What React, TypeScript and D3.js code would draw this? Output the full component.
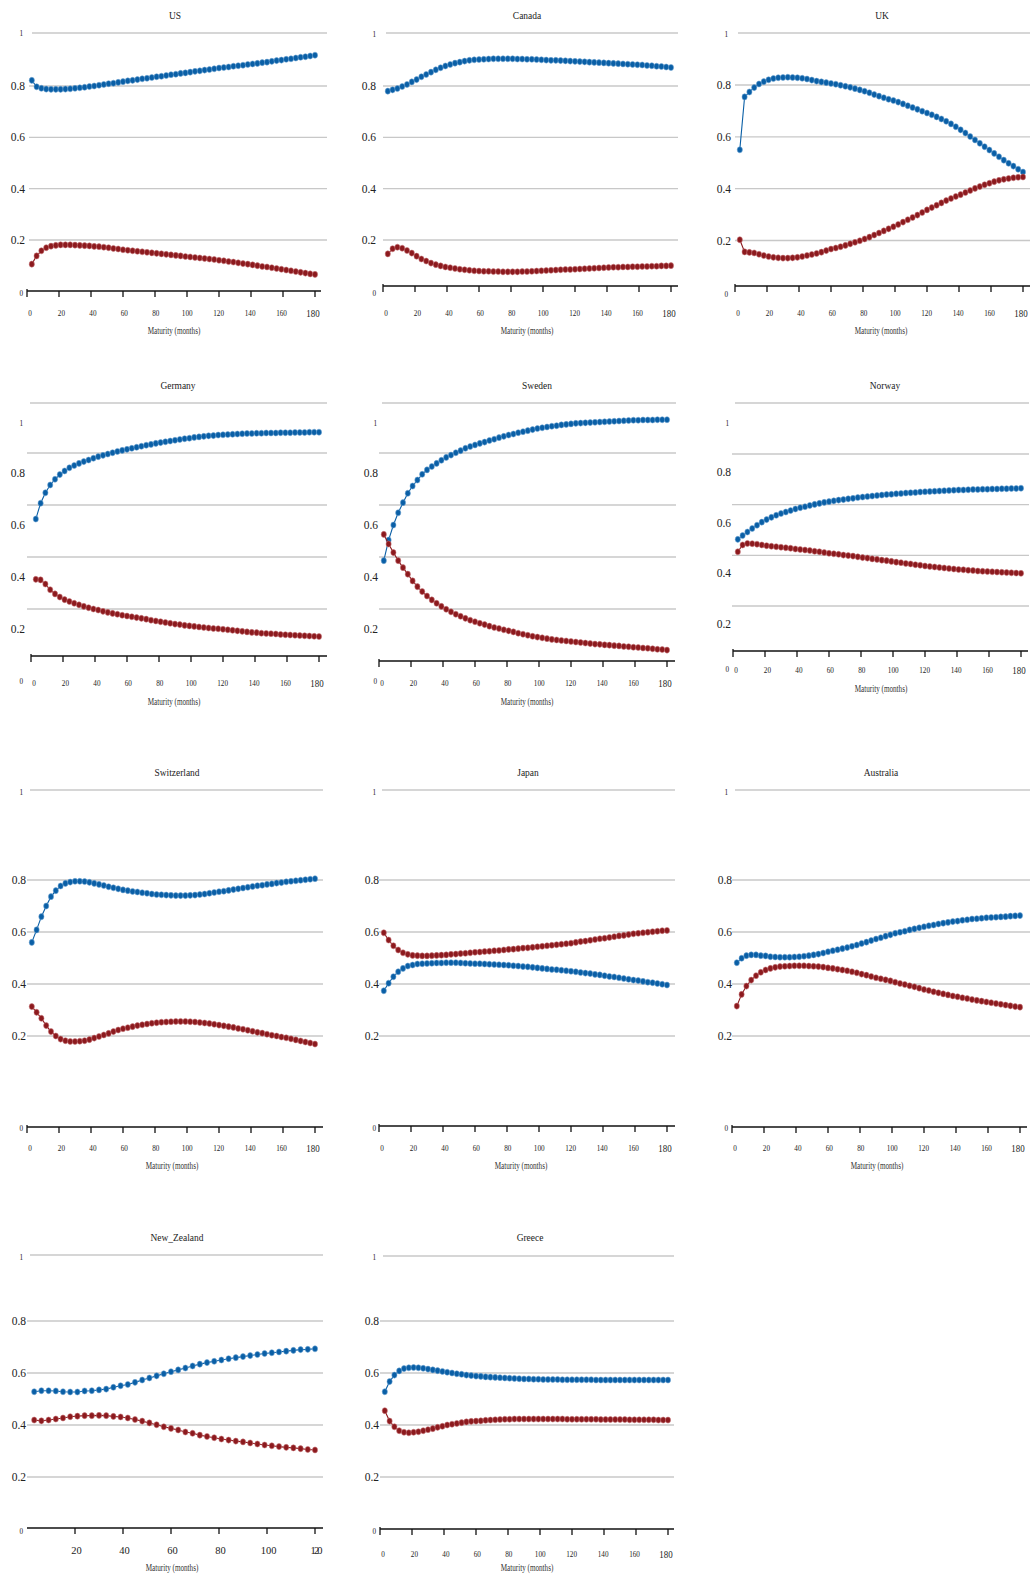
import React from "react";
import * as d3 from "d3";

// ---------- x values (maturity in months) ----------
const MONTHS = [3, 6, 9, 12, 15, 18, 21, 24, 27, 30, 33, 36, 39, 42, 45, 48, 51, 54, 57, 60,
  63, 66, 69, 72, 75, 78, 81, 84, 87, 90, 93, 96, 99, 102, 105, 108, 111, 114, 117, 120,
  123, 126, 129, 132, 135, 138, 141, 144, 147, 150, 153, 156, 159, 162, 165, 168, 171, 174, 177, 180];
const MONTHS_NZ = [3, 6, 9, 12, 15, 18, 21, 24, 27, 30, 33, 36, 39, 42, 45, 48, 51, 54, 57, 60,
  63, 66, 69, 72, 75, 78, 81, 84, 87, 90, 93, 96, 99, 102, 105, 108, 111, 114, 117, 120];
const X_TICKS = [0, 20, 40, 60, 80, 100, 120, 140, 160, 180];
const X_TICKS_NZ = [20, 40, 60, 80, 100, 120];
const Y_TICKS = [0.2, 0.4, 0.6, 0.8];
const Y_TICK_LABELS = ["0.2", "0.4", "0.6", "0.8"];

// ---------- series (blue / red) ----------
const US_BLUE = [0.822, 0.797, 0.791, 0.788, 0.787, 0.787, 0.787, 0.788, 0.789, 0.791,
  0.793, 0.795, 0.798, 0.800, 0.803, 0.806, 0.809, 0.811, 0.814, 0.817,
  0.820, 0.822, 0.825, 0.828, 0.830, 0.833, 0.836, 0.838, 0.841, 0.844,
  0.846, 0.849, 0.851, 0.854, 0.857, 0.859, 0.862, 0.864, 0.867, 0.870,
  0.872, 0.874, 0.877, 0.879, 0.881, 0.884, 0.886, 0.888, 0.891, 0.893,
  0.896, 0.899, 0.901, 0.904, 0.906, 0.909, 0.912, 0.914, 0.917, 0.920];
const US_RED = [0.106, 0.138, 0.158, 0.170, 0.176, 0.179, 0.181, 0.181, 0.181, 0.180,
  0.179, 0.178, 0.177, 0.175, 0.174, 0.172, 0.170, 0.167, 0.165, 0.162,
  0.160, 0.158, 0.156, 0.154, 0.152, 0.150, 0.148, 0.146, 0.144, 0.142,
  0.140, 0.138, 0.136, 0.134, 0.132, 0.130, 0.128, 0.126, 0.124, 0.121,
  0.119, 0.116, 0.114, 0.111, 0.108, 0.106, 0.103, 0.100, 0.097, 0.095,
  0.092, 0.089, 0.086, 0.083, 0.080, 0.077, 0.074, 0.071, 0.068, 0.066];

const CA_BLUE = [0.780, 0.785, 0.790, 0.798, 0.806, 0.816, 0.825, 0.836, 0.845, 0.854,
  0.863, 0.871, 0.878, 0.884, 0.889, 0.893, 0.897, 0.900, 0.902, 0.903,
  0.904, 0.905, 0.906, 0.906, 0.906, 0.906, 0.906, 0.905, 0.905, 0.904,
  0.904, 0.903, 0.902, 0.901, 0.900, 0.900, 0.899, 0.898, 0.897, 0.896,
  0.895, 0.894, 0.893, 0.892, 0.891, 0.890, 0.889, 0.888, 0.887, 0.886,
  0.885, 0.884, 0.883, 0.882, 0.880, 0.879, 0.877, 0.876, 0.874, 0.872];
const CA_RED = [0.146, 0.166, 0.172, 0.168, 0.159, 0.149, 0.137, 0.126, 0.118, 0.110,
  0.104, 0.099, 0.095, 0.092, 0.089, 0.086, 0.084, 0.082, 0.080, 0.079,
  0.078, 0.078, 0.077, 0.077, 0.076, 0.076, 0.076, 0.076, 0.077, 0.077,
  0.078, 0.079, 0.080, 0.081, 0.082, 0.083, 0.084, 0.085, 0.085, 0.086,
  0.087, 0.088, 0.089, 0.090, 0.091, 0.092, 0.093, 0.094, 0.094, 0.095,
  0.095, 0.096, 0.096, 0.097, 0.097, 0.098, 0.098, 0.099, 0.099, 0.100];

const UK_BLUE = [0.550, 0.754, 0.773, 0.790, 0.804, 0.813, 0.820, 0.825, 0.828, 0.829,
  0.830, 0.829, 0.828, 0.826, 0.823, 0.819, 0.815, 0.812, 0.809, 0.806,
  0.803, 0.799, 0.795, 0.791, 0.786, 0.781, 0.776, 0.770, 0.763, 0.757,
  0.751, 0.745, 0.740, 0.734, 0.727, 0.720, 0.713, 0.706, 0.699, 0.692,
  0.685, 0.677, 0.669, 0.660, 0.650, 0.639, 0.627, 0.615, 0.601, 0.588,
  0.575, 0.562, 0.549, 0.536, 0.523, 0.510, 0.498, 0.487, 0.475, 0.464];
const UK_RED = [0.203, 0.156, 0.154, 0.152, 0.147, 0.142, 0.138, 0.135, 0.133, 0.132,
  0.132, 0.133, 0.135, 0.138, 0.142, 0.146, 0.150, 0.155, 0.161, 0.167,
  0.171, 0.176, 0.181, 0.187, 0.193, 0.199, 0.206, 0.213, 0.221, 0.229,
  0.237, 0.245, 0.253, 0.262, 0.271, 0.280, 0.289, 0.298, 0.308, 0.318,
  0.327, 0.336, 0.345, 0.354, 0.362, 0.370, 0.377, 0.385, 0.393, 0.401,
  0.408, 0.415, 0.421, 0.427, 0.432, 0.436, 0.439, 0.442, 0.444, 0.445];

const DE_BLUE = [0.546, 0.607, 0.647, 0.677, 0.699, 0.717, 0.731, 0.743, 0.752, 0.760,
  0.767, 0.773, 0.780, 0.786, 0.791, 0.796, 0.801, 0.806, 0.810, 0.814,
  0.818, 0.822, 0.826, 0.830, 0.833, 0.837, 0.840, 0.843, 0.846, 0.849,
  0.852, 0.855, 0.857, 0.860, 0.862, 0.864, 0.866, 0.867, 0.869, 0.870,
  0.871, 0.872, 0.873, 0.874, 0.875, 0.875, 0.876, 0.876, 0.877, 0.877,
  0.877, 0.878, 0.878, 0.878, 0.879, 0.879, 0.879, 0.880, 0.880, 0.880];
const DE_RED = [0.314, 0.312, 0.296, 0.274, 0.258, 0.246, 0.236, 0.229, 0.222, 0.216,
  0.210, 0.205, 0.200, 0.196, 0.191, 0.187, 0.183, 0.180, 0.176, 0.173,
  0.170, 0.167, 0.164, 0.161, 0.157, 0.154, 0.151, 0.148, 0.145, 0.142,
  0.140, 0.137, 0.135, 0.133, 0.131, 0.129, 0.127, 0.125, 0.124, 0.122,
  0.120, 0.118, 0.116, 0.114, 0.112, 0.110, 0.109, 0.107, 0.106, 0.105,
  0.104, 0.102, 0.101, 0.100, 0.099, 0.098, 0.097, 0.096, 0.095, 0.094];

const SE_BLUE = [0.386, 0.465, 0.523, 0.570, 0.609, 0.645, 0.673, 0.696, 0.718, 0.735,
  0.748, 0.760, 0.772, 0.783, 0.792, 0.801, 0.809, 0.818, 0.825, 0.831,
  0.837, 0.842, 0.848, 0.853, 0.859, 0.864, 0.869, 0.873, 0.878, 0.882,
  0.886, 0.890, 0.894, 0.897, 0.900, 0.903, 0.905, 0.908, 0.910, 0.912,
  0.914, 0.915, 0.916, 0.917, 0.918, 0.919, 0.920, 0.921, 0.922, 0.923,
  0.924, 0.925, 0.926, 0.926, 0.927, 0.927, 0.927, 0.928, 0.928, 0.928];
const SE_RED = [0.487, 0.450, 0.417, 0.386, 0.359, 0.334, 0.308, 0.286, 0.267, 0.250,
  0.235, 0.222, 0.210, 0.199, 0.189, 0.180, 0.172, 0.164, 0.157, 0.151,
  0.145, 0.140, 0.134, 0.129, 0.125, 0.120, 0.116, 0.112, 0.107, 0.103,
  0.099, 0.095, 0.092, 0.089, 0.086, 0.083, 0.081, 0.079, 0.077, 0.075,
  0.073, 0.071, 0.069, 0.067, 0.065, 0.064, 0.062, 0.061, 0.059, 0.058,
  0.056, 0.055, 0.053, 0.052, 0.050, 0.049, 0.047, 0.045, 0.044, 0.042];

const NO_BLUE = [0.463, 0.478, 0.492, 0.506, 0.519, 0.531, 0.541, 0.550, 0.558, 0.565,
  0.571, 0.577, 0.583, 0.588, 0.592, 0.597, 0.601, 0.605, 0.609, 0.612,
  0.615, 0.618, 0.620, 0.623, 0.625, 0.628, 0.630, 0.632, 0.634, 0.636,
  0.638, 0.640, 0.641, 0.643, 0.644, 0.646, 0.647, 0.648, 0.650, 0.651,
  0.652, 0.653, 0.654, 0.655, 0.656, 0.657, 0.658, 0.658, 0.659, 0.660,
  0.660, 0.661, 0.661, 0.662, 0.662, 0.663, 0.663, 0.664, 0.664, 0.665];
const NO_RED = [0.414, 0.441, 0.447, 0.446, 0.444, 0.441, 0.438, 0.436, 0.434, 0.432,
  0.430, 0.428, 0.425, 0.423, 0.421, 0.419, 0.416, 0.414, 0.411, 0.408,
  0.406, 0.404, 0.401, 0.399, 0.397, 0.394, 0.391, 0.389, 0.386, 0.384,
  0.381, 0.379, 0.376, 0.373, 0.371, 0.368, 0.366, 0.363, 0.361, 0.358,
  0.356, 0.354, 0.352, 0.350, 0.348, 0.346, 0.344, 0.343, 0.341, 0.340,
  0.338, 0.337, 0.336, 0.335, 0.334, 0.333, 0.332, 0.331, 0.330, 0.329];

const CH_BLUE = [0.560, 0.608, 0.659, 0.700, 0.736, 0.759, 0.777, 0.787, 0.792, 0.795,
  0.795, 0.794, 0.791, 0.787, 0.783, 0.779, 0.774, 0.770, 0.766, 0.762,
  0.759, 0.756, 0.754, 0.751, 0.749, 0.746, 0.744, 0.743, 0.742, 0.741,
  0.740, 0.740, 0.740, 0.741, 0.742, 0.744, 0.746, 0.749, 0.752, 0.755,
  0.757, 0.760, 0.763, 0.766, 0.769, 0.772, 0.775, 0.778, 0.780, 0.783,
  0.785, 0.788, 0.790, 0.793, 0.795, 0.797, 0.799, 0.801, 0.803, 0.805];
const CH_RED = [0.313, 0.291, 0.268, 0.240, 0.217, 0.200, 0.188, 0.182, 0.179, 0.179,
  0.180, 0.182, 0.186, 0.192, 0.198, 0.204, 0.210, 0.217, 0.223, 0.228,
  0.232, 0.236, 0.240, 0.243, 0.246, 0.249, 0.251, 0.253, 0.254, 0.255,
  0.256, 0.256, 0.256, 0.255, 0.254, 0.252, 0.250, 0.248, 0.245, 0.242,
  0.239, 0.236, 0.233, 0.229, 0.226, 0.222, 0.218, 0.214, 0.211, 0.207,
  0.203, 0.200, 0.196, 0.193, 0.189, 0.185, 0.181, 0.177, 0.173, 0.169];

const JP_BLUE = [0.374, 0.403, 0.428, 0.447, 0.460, 0.469, 0.473, 0.477, 0.478, 0.479,
  0.480, 0.481, 0.481, 0.482, 0.482, 0.482, 0.481, 0.480, 0.479, 0.478,
  0.478, 0.477, 0.476, 0.475, 0.474, 0.473, 0.472, 0.470, 0.469, 0.467,
  0.466, 0.464, 0.462, 0.460, 0.458, 0.456, 0.455, 0.453, 0.451, 0.449,
  0.447, 0.444, 0.442, 0.440, 0.437, 0.435, 0.432, 0.429, 0.427, 0.424,
  0.421, 0.418, 0.415, 0.413, 0.410, 0.407, 0.405, 0.402, 0.399, 0.396];
const JP_RED = [0.597, 0.569, 0.547, 0.531, 0.520, 0.514, 0.510, 0.509, 0.508, 0.508,
  0.509, 0.510, 0.511, 0.512, 0.514, 0.515, 0.517, 0.518, 0.520, 0.522,
  0.523, 0.525, 0.526, 0.528, 0.529, 0.531, 0.533, 0.534, 0.536, 0.538,
  0.539, 0.541, 0.543, 0.545, 0.547, 0.549, 0.551, 0.553, 0.555, 0.557,
  0.560, 0.563, 0.565, 0.568, 0.571, 0.574, 0.576, 0.579, 0.582, 0.585,
  0.587, 0.590, 0.593, 0.595, 0.597, 0.599, 0.601, 0.603, 0.605, 0.606];

const AU_BLUE = [0.482, 0.499, 0.509, 0.512, 0.512, 0.509, 0.508, 0.505, 0.504, 0.503,
  0.503, 0.503, 0.504, 0.505, 0.507, 0.509, 0.512, 0.515, 0.519, 0.524,
  0.528, 0.532, 0.536, 0.540, 0.545, 0.550, 0.556, 0.561, 0.567, 0.573,
  0.578, 0.584, 0.589, 0.595, 0.599, 0.603, 0.608, 0.612, 0.616, 0.620,
  0.624, 0.627, 0.631, 0.634, 0.637, 0.640, 0.642, 0.645, 0.647, 0.650,
  0.651, 0.653, 0.655, 0.656, 0.657, 0.658, 0.659, 0.661, 0.662, 0.663];
const AU_RED = [0.315, 0.360, 0.392, 0.415, 0.432, 0.445, 0.454, 0.460, 0.464, 0.467,
  0.468, 0.469, 0.470, 0.470, 0.470, 0.469, 0.468, 0.467, 0.465, 0.462,
  0.460, 0.457, 0.454, 0.451, 0.447, 0.443, 0.438, 0.434, 0.429, 0.424,
  0.420, 0.416, 0.412, 0.407, 0.402, 0.398, 0.393, 0.389, 0.384, 0.379,
  0.375, 0.370, 0.366, 0.362, 0.358, 0.354, 0.351, 0.347, 0.344, 0.340,
  0.337, 0.334, 0.331, 0.328, 0.325, 0.322, 0.319, 0.316, 0.313, 0.311];

const NZ_BLUE = [0.528, 0.532, 0.532, 0.531, 0.528, 0.527, 0.527, 0.531, 0.532, 0.535,
  0.538, 0.545, 0.551, 0.556, 0.564, 0.573, 0.581, 0.589, 0.597, 0.605,
  0.612, 0.619, 0.627, 0.634, 0.640, 0.645, 0.650, 0.655, 0.659, 0.663,
  0.667, 0.671, 0.675, 0.678, 0.681, 0.684, 0.687, 0.690, 0.691, 0.693];
const NZ_RED = [0.419, 0.416, 0.419, 0.423, 0.427, 0.432, 0.434, 0.436, 0.436, 0.437,
  0.436, 0.433, 0.431, 0.427, 0.421, 0.415, 0.408, 0.401, 0.393, 0.387,
  0.381, 0.373, 0.368, 0.361, 0.356, 0.351, 0.346, 0.342, 0.338, 0.335,
  0.331, 0.327, 0.323, 0.320, 0.317, 0.314, 0.312, 0.309, 0.306, 0.304];

const GR_BLUE = [0.528, 0.567, 0.592, 0.608, 0.617, 0.620, 0.621, 0.620, 0.618, 0.615,
  0.612, 0.609, 0.606, 0.603, 0.600, 0.597, 0.595, 0.592, 0.590, 0.588,
  0.587, 0.585, 0.584, 0.583, 0.582, 0.581, 0.580, 0.579, 0.578, 0.577,
  0.577, 0.576, 0.576, 0.575, 0.575, 0.575, 0.575, 0.574, 0.574, 0.574,
  0.574, 0.574, 0.574, 0.574, 0.573, 0.573, 0.573, 0.573, 0.573, 0.573,
  0.573, 0.573, 0.573, 0.573, 0.573, 0.573, 0.573, 0.573, 0.573, 0.573];
const GR_RED = [0.455, 0.415, 0.393, 0.378, 0.372, 0.370, 0.372, 0.374, 0.378, 0.382,
  0.386, 0.391, 0.395, 0.400, 0.403, 0.406, 0.409, 0.412, 0.414, 0.415,
  0.416, 0.418, 0.419, 0.420, 0.421, 0.422, 0.422, 0.423, 0.423, 0.423,
  0.423, 0.423, 0.423, 0.423, 0.423, 0.423, 0.423, 0.423, 0.422, 0.422,
  0.422, 0.422, 0.422, 0.422, 0.422, 0.421, 0.421, 0.421, 0.421, 0.421,
  0.421, 0.420, 0.420, 0.420, 0.420, 0.420, 0.420, 0.419, 0.419, 0.419];

// ---------- layout ----------
type Layout = {
  x0: number; pxm: number; axisX2: number; gridX1: number; gridX2: number;
  y08: number; y02: number; topY: number; axisY: number;
  labR: number; smallR: number; topLabY: number; zeroLabY: number; shift: number;
  titleX: number; titleY: number; tickLabY: number; xTitleX: number; xTitleY: number;
};

const PANELS: { name: string; blue: number[]; red: number[]; months: number[]; ticks: number[]; nz?: boolean; L: Layout }[] = [
  { name: "US", blue: US_BLUE, red: US_RED, months: MONTHS, ticks: X_TICKS,
    L: { x0: 27, pxm: 1.6, axisX2: 321, gridX1: 29, gridX2: 327, y08: 86, y02: 240, topY: 33, axisY: 291, labR: 25, smallR: 23, topLabY: 33, zeroLabY: 293, shift: 0, titleX: 175, titleY: 15, tickLabY: 313, xTitleX: 174, xTitleY: 331 } },
  { name: "Canada", blue: CA_BLUE, red: CA_RED, months: MONTHS, ticks: X_TICKS,
    L: { x0: 383, pxm: 1.6, axisX2: 678, gridX1: 383, gridX2: 678, y08: 86, y02: 240, topY: 33, axisY: 286, labR: 376, smallR: 376, topLabY: 34, zeroLabY: 293, shift: 0, titleX: 527, titleY: 15, tickLabY: 313, xTitleX: 527, xTitleY: 331 } },
  { name: "UK", blue: UK_BLUE, red: UK_RED, months: MONTHS, ticks: X_TICKS,
    L: { x0: 735, pxm: 1.6, axisX2: 1030, gridX1: 735, gridX2: 1030, y08: 85, y02: 240.5, topY: 33, axisY: 286, labR: 731, smallR: 728, topLabY: 34, zeroLabY: 294, shift: 0, titleX: 882, titleY: 15, tickLabY: 313, xTitleX: 881, xTitleY: 331 } },
  { name: "Germany", blue: DE_BLUE, red: DE_RED, months: MONTHS, ticks: X_TICKS,
    L: { x0: 31, pxm: 1.6, axisX2: 327, gridX1: 27, gridX2: 327, y08: 453, y02: 609, topY: 403, axisY: 656, labR: 25, smallR: 23, topLabY: 423, zeroLabY: 681, shift: 20, titleX: 178, titleY: 385, tickLabY: 683, xTitleX: 174, xTitleY: 702 } },
  { name: "Sweden", blue: SE_BLUE, red: SE_RED, months: MONTHS, ticks: X_TICKS,
    L: { x0: 379, pxm: 1.6, axisX2: 675, gridX1: 379, gridX2: 676, y08: 453, y02: 609, topY: 403, axisY: 661, labR: 378, smallR: 377, topLabY: 423, zeroLabY: 681, shift: 20, titleX: 537, titleY: 385, tickLabY: 683, xTitleX: 527, xTitleY: 702 } },
  { name: "Norway", blue: NO_BLUE, red: NO_RED, months: MONTHS, ticks: X_TICKS,
    L: { x0: 733, pxm: 1.6, axisX2: 1028, gridX1: 732, gridX2: 1029, y08: 454, y02: 606, topY: 403, axisY: 651, labR: 731, smallR: 729, topLabY: 423, zeroLabY: 669, shift: 18, titleX: 885, titleY: 385, tickLabY: 670, xTitleX: 881, xTitleY: 689 } },
  { name: "Switzerland", blue: CH_BLUE, red: CH_RED, months: MONTHS, ticks: X_TICKS,
    L: { x0: 27, pxm: 1.6, axisX2: 323, gridX1: 27, gridX2: 323, y08: 880, y02: 1036, topY: 790, axisY: 1127, labR: 26, smallR: 23, topLabY: 792, zeroLabY: 1128, shift: 0, titleX: 177, titleY: 772, tickLabY: 1148, xTitleX: 172, xTitleY: 1166 } },
  { name: "Japan", blue: JP_BLUE, red: JP_RED, months: MONTHS, ticks: X_TICKS,
    L: { x0: 379, pxm: 1.6, axisX2: 675, gridX1: 379, gridX2: 675, y08: 880, y02: 1036, topY: 790, axisY: 1126, labR: 379, smallR: 376, topLabY: 792, zeroLabY: 1128, shift: 0, titleX: 528, titleY: 772, tickLabY: 1148, xTitleX: 521, xTitleY: 1166 } },
  { name: "Australia", blue: AU_BLUE, red: AU_RED, months: MONTHS, ticks: X_TICKS,
    L: { x0: 732, pxm: 1.6, axisX2: 1027, gridX1: 732, gridX2: 1030, y08: 880, y02: 1036, topY: 790, axisY: 1127, labR: 732, smallR: 728, topLabY: 792, zeroLabY: 1128, shift: 0, titleX: 881, titleY: 772, tickLabY: 1148, xTitleX: 877, xTitleY: 1166 } },
  { name: "New_Zealand", blue: NZ_BLUE, red: NZ_RED, months: MONTHS_NZ, ticks: X_TICKS_NZ, nz: true,
    L: { x0: 27, pxm: 2.4, axisX2: 323, gridX1: 27, gridX2: 323, y08: 1321, y02: 1477, topY: 1255, axisY: 1528, labR: 26, smallR: 23, topLabY: 1257, zeroLabY: 1531, shift: 0, titleX: 177, titleY: 1237, tickLabY: 1550, xTitleX: 172, xTitleY: 1568 } },
  { name: "Greece", blue: GR_BLUE, red: GR_RED, months: MONTHS, ticks: X_TICKS,
    L: { x0: 380, pxm: 1.6, axisX2: 674, gridX1: 380, gridX2: 674, y08: 1321, y02: 1477, topY: 1256, axisY: 1529, labR: 379, smallR: 376, topLabY: 1257, zeroLabY: 1531, shift: 0, titleX: 530, titleY: 1237, tickLabY: 1554, xTitleX: 527, xTitleY: 1568 } },
];

const BLUE = "#0a5fa6";
const BLUE_HALO = "#6fa6d4";
const RED = "#8c1a1e";
const RED_HALO = "#c9787b";
const GRID = "#c8c8c8";
const FONT = "'Liberation Serif', 'DejaVu Serif', serif";

function Txt(props: { x: number; y: number; size: number; sx?: number; anchor?: string; fill?: string; children: any; textLength?: number }) {
  const { x, y, size, sx = 1, anchor = "middle", fill = "#333", children, textLength } = props;
  return (
    <text
      transform={`translate(${x},${y}) scale(${sx},1)`}
      fontSize={size}
      fontFamily={FONT}
      textAnchor={anchor}
      dominantBaseline="central"
      fill={fill}
      {...(textLength ? { textLength, lengthAdjust: "spacing" } : {})}
    >
      {children}
    </text>
  );
}

function Series({ months, values, x, y, color, halo }: any) {
  const line = d3.line<number>().x((_, i) => x(months[i])).y((v) => y(v));
  return (
    <g>
      <path d={line(values) || ""} fill="none" stroke={color} strokeWidth={1.1} />
      {values.map((v: number, i: number) => (
        <ellipse key={i} cx={x(months[i])} cy={y(v)} rx={2.6} ry={3.05} fill={color} stroke={halo} strokeWidth={0.9} strokeOpacity={0.6} />
      ))}
    </g>
  );
}

function Panel({ p }: { p: (typeof PANELS)[number] }) {
  const L = p.L;
  const maxM = p.nz ? 120 : 180;
  const x = d3.scaleLinear().domain([0, maxM]).range([L.x0, L.x0 + maxM * L.pxm]);
  const y = d3.scaleLinear().domain([0.2, 0.8]).range([L.y02, L.y08]);
  const tickLab = p.nz
    ? (t: number) => x(t) + 1.5
    : d3.scaleLinear().domain([0, 180]).range([L.x0 + 3, L.x0 + 286]);
  return (
    <g>
      <Txt x={L.titleX} y={L.titleY} size={10.5} sx={0.9} fill="#222">{p.name}</Txt>
      {/* gridlines */}
      <line x1={L.gridX1 + 3} x2={L.gridX2} y1={L.topY} y2={L.topY} stroke={GRID} strokeWidth={1.4} />
      {Y_TICKS.map((t) => (
        <line key={t} x1={L.gridX1} x2={L.gridX2} y1={y(t)} y2={y(t)} stroke={GRID} strokeWidth={1.4} />
      ))}
      {/* y labels */}
      <Txt x={L.smallR} y={L.topLabY} size={8.5} sx={0.85} anchor="end" fill="#222">1</Txt>
      {Y_TICKS.map((t, i) => (
        <Txt key={t} x={L.labR} y={y(t) + L.shift} size={11.5} anchor="end" fill="#222">{Y_TICK_LABELS[i]}</Txt>
      ))}
      <Txt x={L.smallR} y={L.zeroLabY} size={8.5} sx={0.85} anchor="end" fill="#222">0</Txt>
      {/* x axis */}
      <line x1={L.x0} x2={L.axisX2} y1={L.axisY} y2={L.axisY} stroke="#111" strokeWidth={1.5} />
      {p.ticks.map((t) => (
        <line key={t} x1={x(t)} x2={x(t)} y1={L.axisY - (t === 0 ? 2 : 0)} y2={L.axisY + 6} stroke="#111" strokeWidth={1.3} />
      ))}
      {p.ticks.map((t, i) => {
        const last = i === p.ticks.length - 1;
        if (p.nz) {
          return (
            <Txt key={t} x={tickLab(t)} y={L.tickLabY} size={10.5} fill="#222" textLength={last ? 12 : undefined}>{String(t)}</Txt>
          );
        }
        return last ? (
          <Txt key={t} x={tickLab(t)} y={L.tickLabY} size={10.5} sx={0.85} fill="#222">{String(t)}</Txt>
        ) : (
          <Txt key={t} x={tickLab(t)} y={L.tickLabY} size={9} sx={0.8} fill="#222">{String(t)}</Txt>
        );
      })}
      <Txt x={L.xTitleX} y={L.xTitleY} size={9.3} sx={0.77}>Maturity (months)</Txt>
      {/* data */}
      <Series months={p.months} values={p.blue} x={x} y={y} color={BLUE} halo={BLUE_HALO} />
      <Series months={p.months} values={p.red} x={x} y={y} color={RED} halo={RED_HALO} />
    </g>
  );
}

export default function App() {
  return (
    <div style={{ position: "absolute", left: 0, top: 0, width: 1031, height: 1578, background: "#fff" }}>
      <svg width={1031} height={1578} style={{ display: "block" }}>
        <rect width={1031} height={1578} fill="#fff" />
        {PANELS.map((p) => (
          <Panel key={p.name} p={p} />
        ))}
      </svg>
    </div>
  );
}
